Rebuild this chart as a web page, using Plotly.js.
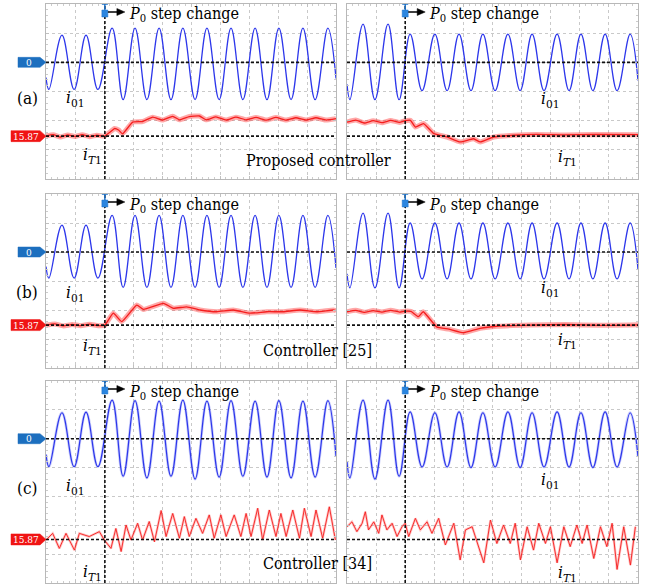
<!DOCTYPE html>
<html>
<head>
<meta charset="utf-8">
<script src="https://cdn.plot.ly/plotly-3.0.1.min.js"></script>
<style>html,body{margin:0;padding:0;background:#fff;}#chart{width:649px;height:586px;}</style>
</head>
<body>
<div id="chart"></div>
<script>
// ---------------- DATA (x: scope divisions, y: scope divisions) ----------------
const stepTimeLeft = 2.03;
const stepTimeRight = 2.0;
const redRefLevel = [-2.53, -2.52, -3.49];   // 15.87 reference level per row
const tagLabels = ['0', '15.87'];
const panelLabels = ['(a)', '(b)', '(c)'];
const controllerLabels = ['Proposed controller', 'Controller [25]', 'Controller [34]'];

// extremum times of i01 (left / right panels)
const tBlueLeft  = [0, 0.10, 0.55, 0.97, 1.38, 1.79, 2.28, 2.66, 3.07, 3.48, 3.90, 4.31, 4.72, 5.14, 5.55, 5.97, 6.38, 6.79, 7.21, 7.62, 8.03, 8.45, 8.86, 9.28, 9.72, 10];
const tBlueRight = [0, 0.10, 0.55, 0.96, 1.41, 1.79, 2.17, 2.58, 3.02, 3.44, 3.85, 4.26, 4.67, 5.09, 5.53, 5.95, 6.36, 6.77, 7.22, 7.63, 8.04, 8.45, 8.87, 9.28, 9.73, 10];
const blueA_L = [-0.52,-0.93,0.93,-0.93,0.93,-0.93, 1.17,-1.28,1.17,-1.28,1.17,-1.28,1.17,-1.28,1.17,-1.28,1.17,-1.28,1.17,-1.28,1.17,-1.28,1.17,-1.28,1.17,-0.55];
const blueA_R = [-0.75,-1.28,1.31,-1.28,1.31,-1.28, 0.97,-0.97,0.97,-0.97,0.97,-0.97,0.97,-0.97,0.97,-0.97,0.97,-0.97,0.97,-0.97,0.97,-0.97,0.97,-0.97,0.97,-0.62];
const blueB_L = [-0.50,-0.90,0.93,-0.90,0.93,-0.90, 1.26,-1.22,1.26,-1.22,1.26,-1.22,1.26,-1.22,1.26,-1.22,1.26,-1.22,1.26,-1.22,1.26,-1.22,1.26,-1.22,1.26,-0.55];
const blueB_R = [-0.75,-1.24,1.34,-1.24,1.34,-1.24, 1.00,-0.93,1.00,-0.93,1.00,-0.93,1.00,-0.93,1.00,-0.93,1.00,-0.93,1.00,-0.93,1.00,-0.93,1.00,-0.93,1.00,-0.60];
const blueC_L = [-0.55,-0.97,0.90,-0.97,0.92,-0.97, 1.34,-1.30,1.32,-1.36,1.30,-1.30,1.34,-1.40,1.30,-1.33,1.32,-1.30,1.30,-1.33,1.32,-1.36,1.30,-1.33,1.32,-0.60];
const blueC_R = [-0.80,-1.36,1.34,-1.40,1.34,-1.30, 0.93,-0.98,0.90,-0.98,0.93,-1.00,0.90,-0.98,0.93,-1.00,0.90,-0.98,0.93,-0.98,0.90,-1.00,0.93,-0.98,0.90,-0.62];

// iT1 traces
const redA_L_t = [0,0.25,0.5,0.75,1.0,1.25,1.5,1.75,2.01,2.20,2.36,2.50,2.64,2.99,3.33,3.68,4.02,4.37,4.60,4.94,5.29,5.52,5.86,6.21,6.55,6.90,7.24,7.59,7.93,8.28,8.62,8.97,9.31,9.66,10];
const redA_L_v = [-2.52,-2.48,-2.56,-2.49,-2.54,-2.48,-2.55,-2.50,-2.53,-2.40,-2.27,-2.32,-2.45,-2.05,-2.03,-1.88,-1.98,-1.85,-1.97,-1.86,-1.84,-1.97,-1.87,-1.98,-1.88,-1.97,-1.89,-1.98,-1.89,-1.98,-1.90,-1.98,-1.90,-1.98,-1.93];
const redA_R_t = [0,0.3,0.6,0.9,1.2,1.5,1.8,2.0,2.18,2.35,2.63,2.98,3.44,3.89,4.35,4.58,5.04,5.73,6.5,7.5,8.5,10];
const redA_R_v = [-2.05,-1.98,-2.08,-2.00,-2.07,-1.99,-2.06,-2.00,-1.99,-2.22,-2.10,-2.44,-2.56,-2.73,-2.62,-2.73,-2.56,-2.50,-2.47,-2.49,-2.47,-2.48];
const redB_L_t = [0,0.3,0.6,0.9,1.2,1.5,1.8,2.03,2.32,2.61,3.13,3.36,4.05,4.39,4.85,5.31,5.89,6.46,7.03,7.61,8.18,8.76,9.33,9.91,10];
const redB_L_v = [-2.52,-2.48,-2.55,-2.50,-2.54,-2.49,-2.54,-2.52,-2.11,-2.40,-1.83,-1.98,-1.77,-1.94,-1.89,-2.00,-2.06,-2.00,-2.11,-2.06,-2.06,-2.00,-2.06,-2.00,-2.02];
const redB_R_t = [0,0.3,0.6,0.9,1.2,1.5,1.8,2.0,2.2,2.45,2.62,3.08,3.5,4.0,4.57,5.15,6.29,7.5,8.7,10];
const redB_R_v = [-2.06,-2.01,-2.08,-2.02,-2.07,-2.01,-2.07,-2.04,-2.05,-2.23,-2.06,-2.58,-2.66,-2.78,-2.63,-2.56,-2.52,-2.50,-2.53,-2.51];
const redC_L_t = [0,0.23,0.46,0.69,0.98,1.15,1.49,1.84,2.01,2.24,2.41,2.59,2.76,2.93,3.16,3.33,3.56,3.74,3.97,4.14,4.37,4.60,4.77,4.94,5.17,5.40,5.63,5.80,6.03,6.21,6.49,6.72,6.90,7.07,7.30,7.47,7.70,7.93,8.10,8.28,8.51,8.74,8.91,9.14,9.31,9.54,9.77,9.98];
const redC_L_v = [-3.51,-3.28,-3.80,-3.28,-3.86,-3.28,-3.39,-3.22,-3.51,-3.80,-3.11,-3.91,-2.99,-3.51,-2.93,-3.51,-2.87,-3.57,-2.49,-3.39,-2.59,-3.45,-2.70,-3.39,-2.76,-3.28,-2.64,-3.45,-2.64,-3.39,-2.64,-3.39,-2.59,-3.39,-2.41,-3.51,-2.47,-3.39,-2.59,-3.39,-2.47,-3.45,-2.41,-3.39,-2.47,-3.45,-2.36,-3.51];
const redC_R_t = [0,0.17,0.34,0.52,0.63,0.74,0.92,1.09,1.20,1.37,1.55,1.72,1.89,2.00,2.12,2.35,2.52,2.75,2.92,3.15,3.38,3.67,3.89,4.07,4.30,4.70,4.93,5.15,5.38,5.61,5.78,5.96,6.19,6.41,6.59,6.82,6.99,7.22,7.45,7.67,7.90,8.08,8.25,8.48,8.71,8.93,9.11,9.28,9.51,9.74,9.91];
const redC_R_v = [-3.05,-2.88,-3.22,-2.93,-2.53,-3.16,-2.88,-3.28,-2.64,-3.16,-2.93,-3.39,-3.05,-2.93,-3.39,-2.76,-3.16,-2.88,-3.28,-2.76,-3.68,-2.93,-4.20,-3.16,-3.05,-4.30,-2.82,-3.63,-2.99,-3.63,-2.93,-4.20,-3.05,-3.86,-2.93,-3.63,-3.05,-4.30,-3.05,-3.74,-2.99,-3.63,-2.99,-4.15,-3.05,-3.74,-2.93,-4.53,-3.05,-4.38,-3.05];

// ---------------- LAYOUT ----------------
const W = 649, H = 586;
const cols = [[46, 336], [347, 638]];
const rows = [[4, 179], [194, 368], [381, 583]];
const yRanges = [[-4, 2], [-4, 2], [-5, 2]];
const BLUE = 'rgb(45,55,235)';
const RED = 'rgb(245,30,30)';
const SERIF = 'DejaVu Serif Condensed, DejaVu Serif, serif';
const FS = {step: 16, ctrl: 16, lab: 17, cur: 17, tag: 10};

const panels = [
  {r:0,c:0,tb:tBlueLeft, vb:blueA_L, tr:redA_L_t, vr:redA_L_v, step:stepTimeLeft},
  {r:0,c:1,tb:tBlueRight,vb:blueA_R, tr:redA_R_t, vr:redA_R_v, step:stepTimeRight},
  {r:1,c:0,tb:tBlueLeft, vb:blueB_L, tr:redB_L_t, vr:redB_L_v, step:stepTimeLeft},
  {r:1,c:1,tb:tBlueRight,vb:blueB_R, tr:redB_R_t, vr:redB_R_v, step:stepTimeRight},
  {r:2,c:0,tb:tBlueLeft, vb:blueC_L, tr:redC_L_t, vr:redC_L_v, step:stepTimeLeft},
  {r:2,c:1,tb:tBlueRight,vb:blueC_R, tr:redC_R_t, vr:redC_R_v, step:stepTimeRight}
];

const traces = [], shapes = [], annotations = [];
const layout = {
  width: W, height: H, margin: {l:0, r:0, t:0, b:0},
  paper_bgcolor: '#fff', plot_bgcolor: '#fff', showlegend: false,
  font: {family: SERIF, color: '#000', size: 14}
};

function axisBase(range, dom) {
  return {
    domain: dom, range: range, dtick: 1, tick0: 0,
    showgrid: true, gridcolor: '#c9c9c9', griddash: 'dot', gridwidth: 1,
    zeroline: false, showticklabels: false,
    showline: true, linecolor: '#b8b8b8', linewidth: 1, mirror: 'allticks',
    ticks: 'inside', ticklen: 3, tickcolor: '#c0c0c0',
    minor: {dtick: 0.2, ticks: 'inside', ticklen: 2, tickcolor: '#cccccc', showgrid: false},
    fixedrange: true
  };
}

panels.forEach((p, i) => {
  const n = i + 1;
  const xs = n === 1 ? 'x' : 'x' + n, ys = n === 1 ? 'y' : 'y' + n;
  const xk = n === 1 ? 'xaxis' : 'xaxis' + n, yk = n === 1 ? 'yaxis' : 'yaxis' + n;
  const cx = cols[p.c], ry = rows[p.r];
  layout[xk] = Object.assign(axisBase([0, 10], [cx[0]/W, cx[1]/W]), {anchor: ys});
  layout[yk] = Object.assign(axisBase(yRanges[p.r], [1 - ry[1]/H, 1 - ry[0]/H]), {anchor: xs});
  const noisy = p.r === 2;
  if (!noisy) {
    traces.push({x: p.tr, y: p.vr, xaxis: xs, yaxis: ys, mode: 'lines', line: {color: 'rgba(255,60,60,0.45)', width: 5, shape: 'spline', smoothing: 0.4}, hoverinfo: 'skip'});
    traces.push({x: p.tr, y: p.vr, xaxis: xs, yaxis: ys, mode: 'lines', line: {color: RED, width: 1.3, shape: 'spline', smoothing: 0.4}, hoverinfo: 'skip'});
  } else {
    traces.push({x: p.tr, y: p.vr, xaxis: xs, yaxis: ys, mode: 'lines', line: {color: 'rgba(255,60,60,0.3)', width: 2.5}, hoverinfo: 'skip'});
    traces.push({x: p.tr, y: p.vr, xaxis: xs, yaxis: ys, mode: 'lines', line: {color: RED, width: 0.9}, hoverinfo: 'skip'});
  }
  if (noisy) {
    traces.push({x: p.tb, y: p.vb, xaxis: xs, yaxis: ys, mode: 'lines', line: {color: 'rgba(60,70,240,0.25)', width: 2.8, shape: 'spline', smoothing: 1.1}, hoverinfo: 'skip'});
  }
  traces.push({x: p.tb, y: p.vb, xaxis: xs, yaxis: ys, mode: 'lines', line: {color: BLUE, width: noisy ? 1.2 : 1.3, shape: 'spline', smoothing: 1.1}, hoverinfo: 'skip'});

  const dl = {color: '#111', width: 1.6, dash: '3px,2px'};
  shapes.push({type: 'line', xref: xs + ' domain', yref: ys, x0: 0, x1: 1, y0: 0, y1: 0, line: dl, layer: 'above'});
  shapes.push({type: 'line', xref: xs + ' domain', yref: ys, x0: 0, x1: 1, y0: redRefLevel[p.r], y1: redRefLevel[p.r], line: dl, layer: 'above'});
  shapes.push({type: 'line', xref: xs, yref: ys + ' domain', x0: p.step, x1: p.step, y0: 0, y1: 1, line: dl, layer: 'above'});
  const top = yRanges[p.r][1];
  shapes.push({type: 'line', xref: xs, yref: ys, xsizemode: 'pixel', ysizemode: 'pixel', xanchor: p.step, yanchor: top, x0: -3, x1: 3, y0: 0, y1: 0, line: {color: '#1f73c9', width: 1.5}});
  shapes.push({type: 'line', xref: xs, yref: ys, xsizemode: 'pixel', ysizemode: 'pixel', xanchor: p.step, yanchor: top, x0: 0, x1: 0, y0: 0, y1: -6, line: {color: '#1f73c9', width: 1.5}});
  shapes.push({type: 'rect', xref: xs, yref: ys, xsizemode: 'pixel', ysizemode: 'pixel', xanchor: p.step, yanchor: top, x0: -3, x1: 3, y0: -6, y1: -13, fillcolor: '#2b86e0', line: {color: '#1f73c9', width: 0.5}});
  shapes.push({type: 'line', xref: xs, yref: ys, xsizemode: 'pixel', ysizemode: 'pixel', xanchor: p.step, yanchor: top, x0: 3, x1: 14, y0: -8, y1: -8, line: {color: '#000', width: 1.5}});
  shapes.push({type: 'path', xref: xs, yref: ys, xsizemode: 'pixel', ysizemode: 'pixel', xanchor: p.step, yanchor: top, path: 'M 12,-4.5 L 20,-8 L 12,-11.5 Z', fillcolor: '#000', line: {color: '#000', width: 0.5}});
  annotations.push({xref: xs, yref: ys, x: p.step, y: top, xanchor: 'left', yanchor: 'middle', xshift: 22, yshift: -11, showarrow: false,
    text: '<i>P</i><sub>0</sub> step change', font: {family: SERIF, size: FS.step, color: '#000'}});

  if (p.c === 0) {
    const ax = cx[0] / W;
    shapes.push({type: 'path', xref: 'paper', yref: ys, xsizemode: 'pixel', ysizemode: 'pixel', xanchor: ax, yanchor: 0,
      path: 'M -28,5 L -6,5 L 0,0 L -6,-5 L -28,-5 Z', fillcolor: '#1c6fbf', line: {color: '#1c6fbf', width: 0.5}});
    shapes.push({type: 'path', xref: 'paper', yref: ys, xsizemode: 'pixel', ysizemode: 'pixel', xanchor: ax, yanchor: redRefLevel[p.r],
      path: 'M -35,5.5 L -6,5.5 L 0,0 L -6,-5.5 L -35,-5.5 Z', fillcolor: '#f01414', line: {color: '#f01414', width: 0.5}});
    annotations.push({xref: 'paper', yref: ys, x: ax, y: 0, xanchor: 'center', yanchor: 'middle', xshift: -17, showarrow: false,
      text: tagLabels[0], font: {family: SERIF, size: FS.tag, color: '#fff'}});
    annotations.push({xref: 'paper', yref: ys, x: ax, y: redRefLevel[p.r], xanchor: 'center', yanchor: 'middle', xshift: -20, showarrow: false,
      text: tagLabels[1], font: {family: SERIF, size: FS.tag, color: '#fff'}});
  }
});

function txt(t, x, y, size) {
  annotations.push({xref: 'paper', yref: 'paper', x: x / W, y: 1 - y / H, xanchor: 'center', yanchor: 'middle', showarrow: false,
    text: t, font: {family: SERIF, size: size, color: '#000'}});
}
const I01 = '<i>i</i><sub>01</sub>';
const IT1 = '<i>i</i><sub><i>T</i>1</sub>';
const labelY = [98, 292, 488];
panelLabels.forEach((t, r) => txt(t, 27, labelY[r], FS.lab));
const i01L = [98, 293, 486], iT1L = [155, 346, 572], i01R = [100, 288, 480], iT1R = [157, 340, 573];
for (let r = 0; r < 3; r++) {
  txt(I01, 75, i01L[r], FS.cur);
  txt(IT1, 92, iT1L[r], FS.cur);
  txt(I01, 550, i01R[r], FS.cur);
  txt(IT1, 567, iT1R[r], FS.cur);
}
const ctrlY = [160, 350, 563];
controllerLabels.forEach((t, r) => txt(t, r === 0 ? 318.5 : 317.5, ctrlY[r], FS.ctrl));

layout.shapes = shapes;
layout.annotations = annotations;
Plotly.newPlot('chart', traces, layout, {staticPlot: true, displayModeBar: false});
</script>
</body>
</html>
